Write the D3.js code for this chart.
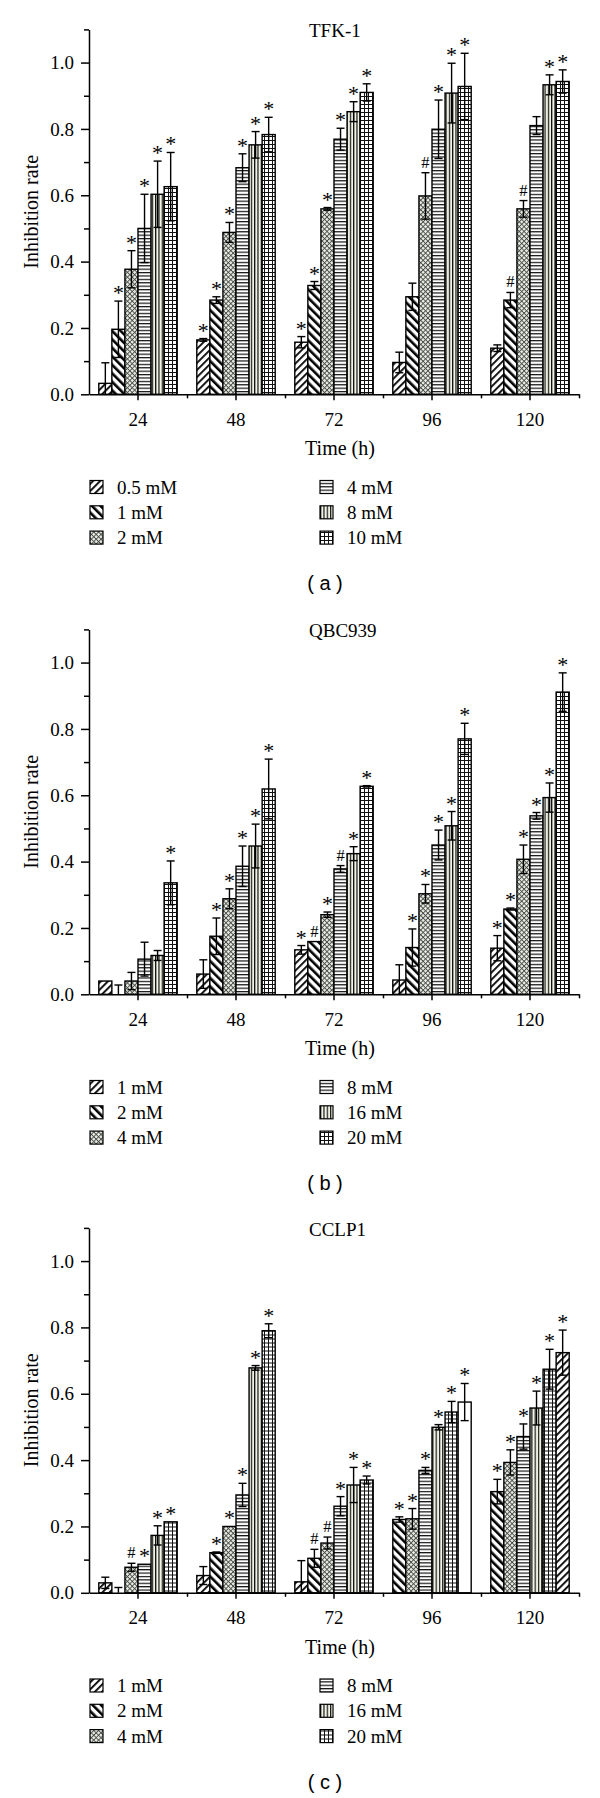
<!DOCTYPE html>
<html><head><meta charset="utf-8">
<script src="https://cdn.jsdelivr.net/npm/d3@7"></script>
<style>
body{margin:0;background:#fff;}
svg{display:block;}
text{font-family:"Liberation Serif","Times New Roman",serif;fill:#000;}
</style></head><body>
<svg id="chart" width="600" height="1798"></svg>
<script>
// ---------------- data ----------------
const categories = ["24","48","72","96","120"];
const panelTitles = ["TFK-1","QBC939","CCLP1"];
const panelTags = ["( a )","( b )","( c )"];
const yTickValues = [0,0.2,0.4,0.6,0.8,1.0];
const yMinorTicks = [0.1,0.3,0.5,0.7,0.9,1.1];
const xAxisTitle = "Time (h)";
const yAxisTitle = "Inhibition rate";

// Panel (a) TFK-1 : rows = series, columns = time points
const seriesA = ["0.5 mM","1 mM","2 mM","4 mM","8 mM","10 mM"];
const valuesA = [
  [0.033,0.164,0.157,0.096,0.139],
  [0.196,0.284,0.328,0.294,0.284],
  [0.377,0.488,0.559,0.598,0.559],
  [0.500,0.683,0.769,0.799,0.810],
  [0.603,0.752,0.852,0.908,0.933],
  [0.626,0.783,0.910,0.928,0.943]
];
const errorsA = [
  [0.062,0.004,0.017,0.031,0.010],
  [0.085,0.010,0.012,0.041,0.023],
  [0.056,0.030,0.004,0.070,0.025],
  [0.103,0.042,0.033,0.088,0.027],
  [0.100,0.040,0.030,0.090,0.030],
  [0.103,0.052,0.026,0.100,0.035]
];
const marksA = [
  ["","*","*","",""],
  ["*","*","*","","#"],
  ["*","*","*","#","#"],
  ["*","*","*","*",""],
  ["*","*","*","*","*"],
  ["*","*","*","*","*"]
];

// Panel (b) QBC939
const seriesB = ["1 mM","2 mM","4 mM","8 mM","16 mM","20 mM"];
const valuesB = [
  [0.040,0.061,0.134,0.043,0.139],
  [0.000,0.175,0.159,0.141,0.257],
  [0.040,0.288,0.240,0.303,0.407],
  [0.106,0.386,0.378,0.450,0.538],
  [0.117,0.447,0.424,0.508,0.593],
  [0.336,0.619,0.627,0.770,0.911]
];
const errorsB = [
  [0.000,0.043,0.013,0.046,0.038],
  [0.028,0.055,0.000,0.056,0.003],
  [0.026,0.030,0.008,0.028,0.043],
  [0.051,0.061,0.010,0.045,0.010],
  [0.015,0.066,0.021,0.043,0.044],
  [0.066,0.090,0.002,0.047,0.058]
];
const marksB = [
  ["","","*","","*"],
  ["","*","#","*","*"],
  ["","*","*","*","*"],
  ["","*","#","*","*"],
  ["","*","*","*","*"],
  ["*","*","*","*","*"]
];

// Panel (c) CCLP1 (rows = bar position inside each group)
const seriesC = ["1 mM","2 mM","4 mM","8 mM","16 mM","20 mM"];
const valuesC = [
  [0.030,0.052,0.033,0.221,0.305],
  [0.000,0.121,0.104,0.223,0.393],
  [0.077,0.200,0.150,0.369,0.471],
  [0.086,0.295,0.261,0.499,0.557],
  [0.173,0.678,0.325,0.545,0.674],
  [0.214,0.790,0.340,0.575,0.724]
];
const errorsC = [
  [0.017,0.027,0.064,0.008,0.037],
  [0.016,0.002,0.027,0.031,0.038],
  [0.012,0.000,0.018,0.009,0.038],
  [0.000,0.035,0.029,0.008,0.051],
  [0.029,0.007,0.053,0.032,0.060],
  [0.000,0.021,0.012,0.056,0.068]
];
const marksC = [
  ["","","","*","*"],
  ["","*","#","*","*"],
  ["#","*","#","*","*"],
  ["*","*","*","*","*"],
  ["*","*","*","*","*"],
  ["*","*","*","*","*"]
];
// fill pattern used by each bar position, per time group (6 = empty)
const patternOrderStd = [[0,1,2,3,4,5],[0,1,2,3,4,5],[0,1,2,3,4,5],[0,1,2,3,4,5],[0,1,2,3,4,5]];
const patternOrderC = [[0,1,2,3,4,5],[0,1,2,3,4,5],[0,1,2,3,4,5],[1,2,3,4,5,6],[1,2,3,4,5,0]];

const panels = [
  {title:panelTitles[0], tag:panelTags[0], series:seriesA, values:valuesA, errors:errorsA, marks:marksA, order:patternOrderStd},
  {title:panelTitles[1], tag:panelTags[1], series:seriesB, values:valuesB, errors:errorsB, marks:marksB, order:patternOrderStd},
  {title:panelTitles[2], tag:panelTags[2], series:seriesC, values:valuesC, errors:errorsC, marks:marksC, order:patternOrderC}
];

// ---------------- drawing ----------------
const svg = d3.select("#chart");
const defs = svg.append("defs");
function pat(id,w,h,rot,bg){
  const p = defs.append("pattern").attr("id",id).attr("patternUnits","userSpaceOnUse")
    .attr("width",w).attr("height",h);
  if(rot) p.attr("patternTransform",`rotate(${rot})`);
  p.append("rect").attr("width",w).attr("height",h).attr("fill",bg);
  return p;
}
let p;
p = pat("p0",5,5,45,"#fff"); p.append("rect").attr("width",1.8).attr("height",5).attr("fill","#000");
p = pat("p1",6,6,-45,"#fff"); p.append("rect").attr("width",2.6).attr("height",6).attr("fill","#000");
p = pat("p2",3.4,3.4,45,"#e6ede0"); p.append("rect").attr("width",0.9).attr("height",3.4).attr("fill","#4a4a4a");
  p.append("rect").attr("width",3.4).attr("height",0.9).attr("fill","#4a4a4a");
p = pat("p3",4,3.4,0,"#fff"); p.append("rect").attr("width",4).attr("height",1.2).attr("fill","#111");
p = pat("p4",3.3,4,0,"#f2f5e6"); p.append("rect").attr("width",1.2).attr("height",4).attr("fill","#111");
p = pat("p5",4,4,0,"#fff"); p.append("rect").attr("width",1).attr("height",4).attr("fill","#111");
  p.append("rect").attr("width",4).attr("height",1).attr("fill","#111");
const fillFor = k => k === 6 ? "#fff" : `url(#p${k})`;

const panelOffsets = [0,600,1198.5];
const plotLeft = 89, plotRight = 579, plotTop = 29.4, plotBottom = 394.3;

panels.forEach((P,pi)=>{
  const g = svg.append("g").attr("transform",`translate(0,${panelOffsets[pi]})`);
  const x = d3.scaleBand().domain(categories).range([plotLeft,plotRight]).paddingInner(0).paddingOuter(0);
  const xs = d3.scaleBand().domain(d3.range(6)).range([x.bandwidth()*0.1, x.bandwidth()*0.9]);
  const y = d3.scaleLinear().domain([0,1.1]).range([plotBottom,plotTop]);

  // bars
  categories.forEach((c,ci)=>{
    for(let s=0;s<6;s++){
      const v = P.values[s][ci], e = P.errors[s][ci], m = P.marks[s][ci];
      const bx = x(c)+xs(s), bw = xs.bandwidth(), cx = bx+bw/2;
      if(v>0){
        g.append("rect").attr("x",bx).attr("y",y(v)).attr("width",bw).attr("height",y(0)-y(v))
          .attr("fill",fillFor(P.order[ci][s])).attr("stroke","#000").attr("stroke-width",1.4);
      }
      if(e>0){
        const lo = Math.max(0,v-e), hi = v+e;
        g.append("line").attr("x1",cx).attr("x2",cx).attr("y1",y(lo)).attr("y2",y(hi)).attr("stroke","#000").attr("stroke-width",1.4);
        g.append("line").attr("x1",cx-4).attr("x2",cx+4).attr("y1",y(hi)).attr("y2",y(hi)).attr("stroke","#000").attr("stroke-width",1.4);
        if(v-e>0) g.append("line").attr("x1",cx-4).attr("x2",cx+4).attr("y1",y(lo)).attr("y2",y(lo)).attr("stroke","#000").attr("stroke-width",1.4);
      }
      if(m){
        const top = y(v+e);
        if(m==="*"){
          g.append("text").attr("x",cx).attr("y",top-1).attr("text-anchor","middle").attr("font-size",22).text("*");
        } else {
          g.append("text").attr("x",cx).attr("y",top-5).attr("text-anchor","middle").attr("font-size",16.5).text("#");
        }
      }
    }
  });

  // y axis
  const ya = g.append("g").attr("transform",`translate(${plotLeft},0)`)
    .call(d3.axisLeft(y).tickValues(yTickValues).tickFormat(d3.format(".1f")).tickSize(8).tickSizeOuter(0).tickPadding(7));
  ya.selectAll("text").attr("font-size",19).attr("font-family","Liberation Serif");
  ya.append("g").call(d3.axisLeft(y).tickValues(yMinorTicks).tickSize(5).tickFormat("")).select(".domain").remove();
  // x axis
  const xa = g.append("g").attr("transform",`translate(0,${plotBottom})`)
    .call(d3.axisBottom(x).tickSize(6).tickSizeOuter(0).tickPadding(12));
  xa.selectAll("text").attr("font-size",19).attr("font-family","Liberation Serif");
  const xb = d3.scaleLinear().domain([0,5]).range([plotLeft,plotRight]);
  xa.append("g").call(d3.axisBottom(xb).tickValues([1,2,3,4,5]).tickSize(4).tickFormat("")).select(".domain").remove();
  g.selectAll(".domain, .tick line").attr("stroke","#000").attr("stroke-width",1.5);

  // titles
  g.append("text").attr("x",309).attr("y",37).attr("font-size",19).text(P.title);
  g.append("text").attr("transform",`translate(38,${(plotTop+plotBottom)/2}) rotate(-90)`)
    .attr("text-anchor","middle").attr("font-size",20).text(yAxisTitle);
  g.append("text").attr("x",340).attr("y",455).attr("text-anchor","middle").attr("font-size",20).text(xAxisTitle);

  // legend
  P.series.forEach((name,si)=>{
    const col = Math.floor(si/3), row = si%3;
    const lx = col===0 ? 90 : 320;
    const ly = 487 + row*25.3;
    g.append("rect").attr("x",lx).attr("y",ly-6.5).attr("width",13).attr("height",13)
      .attr("fill",fillFor(si)).attr("stroke","#000").attr("stroke-width",1.2);
    g.append("text").attr("x",lx+27).attr("y",ly+6.5).attr("font-size",19).text(name);
  });

  // panel tag
  g.append("text").attr("x",325).attr("y",590).attr("text-anchor","middle")
    .attr("font-size",20).style("font-family","'Liberation Sans',Arial,sans-serif").text(P.tag);
});
</script>
</body></html>
